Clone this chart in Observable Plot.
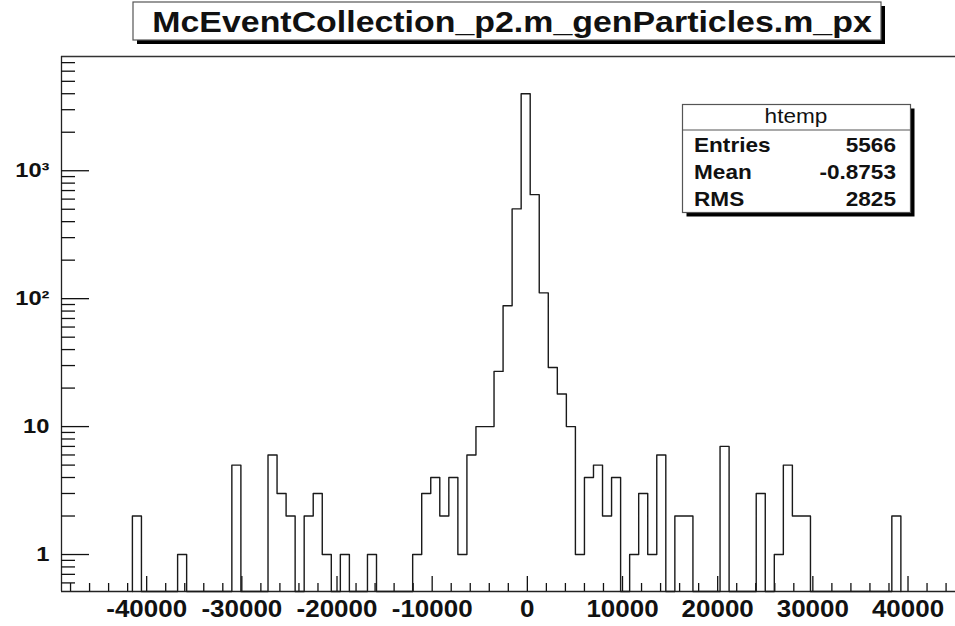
<!DOCTYPE html>
<html>
<head>
<meta charset="utf-8">
<script src="https://cdn.jsdelivr.net/npm/d3@7"></script>
<script src="https://cdn.jsdelivr.net/npm/@observablehq/plot@0.6"></script>
<style>
  html, body { margin: 0; padding: 0; background: #fff; }
  #wrap { position: relative; width: 955px; height: 626px; overflow: hidden; background: #fff; }
  #wrap > svg { position: absolute; left: 0; top: 0; }
</style>
</head>
<body>
<div id="wrap"></div>
<script>
// ---- data ----
const titleText = "McEventCollection_p2.m_genParticles.m_px";
const statsHeader = "htemp";
const statsNames = ["Entries", "Mean", "RMS"];
const statsValues = ["5566", "-0.8753", "2825"];

// histogram: first bin lower edge, bin width, and bin contents (left to right)
const binStart = -41500;
const binWidth = 950;
const counts = [
  2, 0, 0, 0, 0, 1, 0, 0, 0, 0,
  0, 5, 0, 0, 0, 6, 3, 2, 0, 2,
  3, 1, 0, 1, 0, 0, 1, 0, 0, 0,
  0, 1, 3, 4, 2, 4, 1, 6, 10, 10,
  27, 88, 503, 4000, 650, 111, 29, 18, 10, 1,
  4, 5, 2, 4, 0, 1, 3, 1, 6, 0,
  2, 2, 0, 0, 0, 7, 0, 0, 0, 3,
  0, 1, 5, 2, 2, 0, 0, 0, 0, 0,
  0, 0, 0, 0, 2
];

const xDomain = [-48950, 44990];
const yDomain = [0.514, 7816];
const xMajor = [-40000, -30000, -20000, -10000, 0, 10000, 20000, 30000, 40000];
const xMajorLabels = ["-40000", "-30000", "-20000", "-10000", "0", "10000", "20000", "30000", "40000"];
const xMinor = [-48000, -46000, -44000, -42000, -38000, -36000, -34000, -32000, -28000, -26000, -24000, -22000,
  -18000, -16000, -14000, -12000, -8000, -6000, -4000, -2000, 2000, 4000, 6000, 8000, 12000, 14000, 16000, 18000,
  22000, 24000, 26000, 28000, 32000, 34000, 36000, 38000, 42000, 44000];
const yMajor = [1, 10, 100, 1000];
const yMajorLabels = ["1", "10", "10\u00B2", "10\u00B3"];
const yMinor = [0.6, 0.7, 0.8, 0.9, 2, 3, 4, 5, 6, 7, 8, 9, 20, 30, 40, 50, 60, 70, 80, 90,
  200, 300, 400, 500, 600, 700, 800, 900, 2000, 3000, 4000, 5000, 6000, 7000];

// ---- build the outline (ROOT-style step histogram) ----
const steps = [{x: binStart, y: yDomain[0]}];
counts.forEach((c, k) => steps.push({x: binStart + k * binWidth, y: c > 0 ? c : yDomain[0]}));
steps.push({x: binStart + counts.length * binWidth, y: yDomain[0]});

const FONT = '"Liberation Sans", Arial, Helvetica, sans-serif';
const SX = 1.13; // horizontal stretch of the reference's lettering

const chart = Plot.plot({
  width: 955,
  height: 626,
  marginLeft: 61,
  marginRight: 0,
  marginTop: 56,
  marginBottom: 35,
  style: {fontFamily: FONT, color: "#111", background: "#fff", overflow: "visible"},
  x: {domain: xDomain, label: null},
  y: {type: "log", domain: yDomain, label: null},
  marks: [
    Plot.ruleY([yDomain[1]], {stroke: "#333", strokeWidth: 1.3}),
    Plot.ruleY([yDomain[0]], {stroke: "#222", strokeWidth: 1.3}),
    Plot.ruleX([xDomain[0]], {stroke: "#222", strokeWidth: 1.3}),
    Plot.axisY(yMinor, {tickSize: -14, tickFormat: () => "", strokeWidth: 1.3}),
    Plot.axisY(yMajor, {tickSize: -28, tickFormat: () => "", strokeWidth: 1.3}),
    Plot.axisY(yMajor, {tickSize: 0, tickPadding: 12, fontSize: 21, fontWeight: "bold",
      tickFormat: d => yMajorLabels[yMajor.indexOf(d)]}),
    Plot.axisX(xMinor, {tickSize: -8, tickFormat: () => "", strokeWidth: 1.3}),
    Plot.axisX(xMajor, {tickSize: -15, tickFormat: () => "", strokeWidth: 1.3}),
    Plot.axisX(xMajor, {tickSize: 0, tickPadding: 9, fontSize: 23, fontWeight: "bold",
      tickFormat: d => xMajorLabels[xMajor.indexOf(d)]}),
    Plot.line(steps, {x: "x", y: "y", curve: "step-after", stroke: "#1a1a1a", strokeWidth: 1.4})
  ]
});

// stretch each label horizontally about its own anchor
chart.querySelectorAll("text").forEach(t => {
  const tr = t.getAttribute("transform");
  if (tr) t.setAttribute("transform", tr + ` scale(${SX},1)`);
});
document.getElementById("wrap").appendChild(chart);

// ---- title box and stats box (overlay) ----
const ov = d3.select("#wrap").append("svg")
  .attr("width", 955).attr("height", 626)
  .style("font-family", FONT);

function box(x0, y0, x1, y1) {
  ov.append("rect").attr("x", x0 + 4).attr("y", y0 + 4).attr("width", x1 - x0).attr("height", y1 - y0).attr("fill", "#000");
  ov.append("rect").attr("x", x0).attr("y", y0).attr("width", x1 - x0).attr("height", y1 - y0)
    .attr("fill", "#fff").attr("stroke", "#555").attr("stroke-width", 1.2);
}
function label(str, x, y, anchor, size, weight) {
  ov.append("text").attr("transform", `translate(${x},${y}) scale(${SX},1)`)
    .attr("text-anchor", anchor).attr("font-size", size).attr("font-weight", weight)
    .attr("fill", "#111").text(str);
}

box(133, 2, 881, 40);
label(titleText, 512, 32, "middle", 30, "bold");

box(682.5, 104.5, 910.5, 212.5);
ov.append("line").attr("x1", 682.5).attr("x2", 910.5).attr("y1", 130).attr("y2", 130).attr("stroke", "#555").attr("stroke-width", 1.2);
label(statsHeader, 796, 123, "middle", 20, "normal");
const rowY = [152, 179, 206];
statsNames.forEach((n, i) => {
  label(n, 694, rowY[i], "start", 20, "bold");
  label(statsValues[i], 896, rowY[i], "end", 20, "bold");
});
</script>
</body>
</html>
